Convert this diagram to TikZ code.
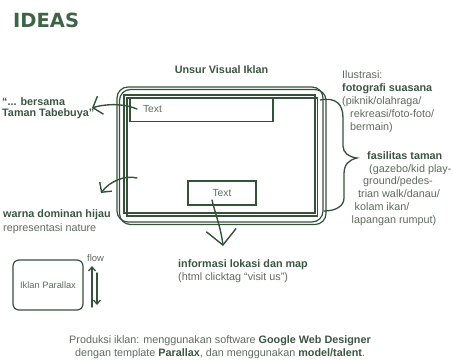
\documentclass[tikz,border=0pt]{standalone}
\usepackage{fontspec}
\setmainfont{Liberation Sans}
\newfontfamily\titlefont{DejaVu Sans}
\usetikzlibrary{arrows.meta}
\definecolor{lg}{HTML}{34523A}
\definecolor{tg}{HTML}{3E6347}
\definecolor{txg}{HTML}{5E6B5F}
\definecolor{bg}{HTML}{3C5542}
\newcommand{\bt}[1]{{\bfseries\color{bg}#1}}
\begin{document}
\begin{tikzpicture}[x=1pt,y=-1pt,
  sk/.style={draw=lg,line width=1.2pt},
  txt/.style={inner sep=0pt,anchor=base west,text=txg,font=\fontsize{10.8}{13}\selectfont},
  ctxt/.style={txt,anchor=base},
  arr/.style={draw=lg,line width=1.4pt,line cap=round,line join=round},
  tbox/.style={sk,minimum height=24pt,inner sep=0pt,text=txg,font=\fontsize{10.3}{12}\selectfont}
]
\useasboundingbox (0,0) rectangle (453,361);

% title
\node[inner sep=0pt,anchor=base west,text=tg,font=\titlefont\bfseries\fontsize{19.5}{20}\selectfont] (title) at (13,27.5) {IDEAS};

% frames
\draw[sk,rounded corners=11pt] (117,87) rectangle (323,222);
\draw[sk,rounded corners=11pt] (119.5,89.5) rectangle (326,224.5);
\draw[sk] (124,95) rectangle (315,213);
\draw[sk] (127,98) rectangle (317.5,216);

% text boxes
\node[tbox,minimum width=143pt,text width=117pt,inner xsep=13pt,align=left] (tb1) at (201.5,109.5) {Text};
\node[tbox,minimum width=68pt] (tb2) at (222,193) {Text};

% brace
\draw[sk,line width=1.3pt] (320,100) .. controls (336,97) and (343,104) .. (343,118)
  -- (343,146) .. controls (343,153) and (349,157) .. (357,158)
  .. controls (349,160) and (344,164) .. (344,174)
  -- (344,198) .. controls (344,206) and (336,211) .. (324,211);

% labels
\node[ctxt] (unsur) at (221.5,74) {\bt{Unsur Visual Iklan}};
\node[txt] (q1) at (2,105.5) {\bt{“... bersama}};
\node[txt] (q2) at (2,117) {\bt{Taman Tabebuya”}};

\node[txt] (r1) at (342,78.5) {Ilustrasi:};
\node[txt] (r2) at (342,91.5) {\bt{fotografi suasana}};
\node[txt] (r3) at (342,104.5) {(piknik/olahraga/};
\node[txt] (r4) at (350,117.5) {rekreasi/foto-foto/};
\node[txt] (r5) at (350,130.5) {bermain)};

\node[txt] (f1) at (367,159) {\bt{fasilitas taman}};
\node[txt] (f2) at (369,172) {(gazebo/kid play-};
\node[txt] (f3) at (363,184.5) {ground/pedes-};
\node[txt] (f4) at (358,197) {trian walk/danau/};
\node[txt] (f5) at (354.5,210) {kolam ikan/};
\node[txt] (f6) at (351.5,223) {lapangan rumput)};

\node[txt] (w1) at (3,217) {\bt{warna dominan hijau}};
\node[txt] (w2) at (3,231.5) {representasi nature};

\node[txt] (i1) at (178,267) {\bt{informasi lokasi dan map}};
\node[txt] (i2) at (178,280.5) {(html clicktag “visit us”)};

\node[ctxt] (p1) at (220,343) {Produksi iklan: menggunakan software \bt{Google Web Designer}};
\node[ctxt] (p2) at (220,356) {dengan template \bt{Parallax}, dan menggunakan \bt{model/talent}.};

% Iklan Parallax box
\node[sk,rounded corners=6pt,minimum width=70pt,minimum height=50pt,inner sep=0pt,text=txg,font=\fontsize{9.3}{11}\selectfont] (ip) at (48,285) {Iklan Parallax};
\node[inner sep=0pt,anchor=base west,text=txg,font=\fontsize{9.5}{11}\selectfont] (flow) at (87,261) {flow};

% arrows
\coordinate (a1s) at (137,109);
\coordinate (a1e) at (92,108);
\draw[arr,-{Straight Barb[length=8pt,width=19pt,line width=1.4pt]}] (a1s) .. controls (120,102) and (101,105) .. (a1e);

\coordinate (a2s) at (137,178);
\coordinate (a2e) at (101,193);
\draw[arr,-{Straight Barb[length=7pt,width=15pt,line width=1.4pt]}] (a2s) .. controls (125,175) and (110,181) .. (a2e);

\coordinate (a3s) at (212,200);
\coordinate (a3e) at (223,246);
\draw[arr,-{Straight Barb[length=15pt,width=30pt,line width=1.4pt]}] (a3s) .. controls (215,213) and (221,228) .. (a3e);

\coordinate (u1s) at (92,307);
\coordinate (u1e) at (92,266);
\draw[arr,-{Straight Barb[length=4pt,width=7pt,line width=1.3pt]}] (u1s) -- (u1e);
\coordinate (d1s) at (97,273);
\coordinate (d1e) at (97,305);
\draw[arr,-{Straight Barb[length=4pt,width=7pt,line width=1.3pt]}] (d1s) -- (d1e);
\end{tikzpicture}
\end{document}
